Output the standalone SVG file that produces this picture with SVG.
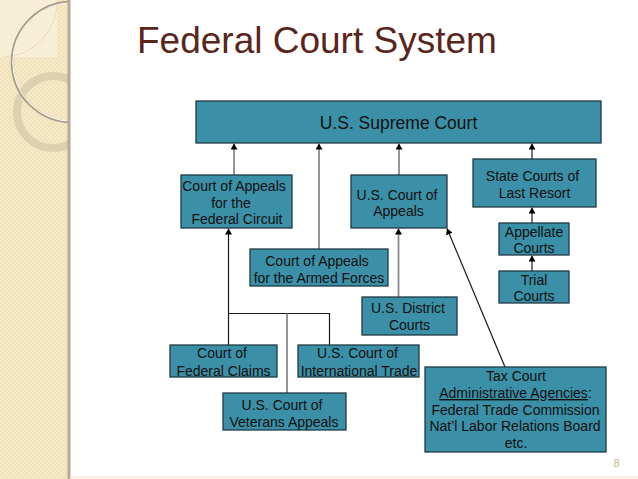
<svg xmlns="http://www.w3.org/2000/svg" width="638" height="479" viewBox="0 0 638 479">
  <defs>
    <style>
      .box { fill: #3b8fa6; stroke: #1f3b46; stroke-width: 1.3; }
      .t { font-family: "Liberation Sans", Arial, sans-serif; font-size: 14px; fill: #111; text-anchor: middle; }
      .big { font-size: 17.5px; }
      .gray { stroke: #8a8a8a; stroke-width: 1.8; fill: none; }
      .blk { stroke: #1a1a1a; stroke-width: 1.2; fill: none; }
    </style>
    <marker id="ah" markerWidth="6" markerHeight="7" refX="6" refY="3.5" orient="auto" markerUnits="userSpaceOnUse">
      <path d="M0,0 L6,3.5 L0,7 Z" fill="#000"/>
    </marker>
    <pattern id="dots" width="4" height="4" patternUnits="userSpaceOnUse">
      <rect width="4" height="4" fill="#f2e2bb"/>
      <rect width="2" height="2" fill="#f6e9c9"/>
      <rect x="2" y="2" width="2" height="2" fill="#f6e9c9"/>
    </pattern>
    <clipPath id="panel">
      <rect x="0" y="0" width="68" height="479"/>
    </clipPath>
  </defs>

  <rect width="638" height="479" fill="#ffffff"/>

  <!-- left decorative panel -->
  <g id="panel-deco">
    <rect x="0" y="0" width="68" height="479" fill="url(#dots)"/>
    <g clip-path="url(#panel)">
      <rect x="0" y="0" width="57" height="57" fill="#ffffff" opacity="0.35"/>
      <path d="M57,0 A55,55 0 0 1 2,57" fill="none" stroke="#e8dcc0" stroke-width="1"/>
      <circle cx="53" cy="112" r="36" fill="none" stroke="#cbbfa3" stroke-width="8" opacity="0.55"/>
      <circle cx="72" cy="62" r="60" fill="none" stroke="#a99d86" stroke-width="2.6"/>
      <circle cx="72" cy="62" r="59.3" fill="none" stroke="#ffffff" stroke-width="1"/>
    </g>
    <rect x="67.5" y="0" width="3" height="479" fill="#b6aa91"/>
    <rect x="70.5" y="476" width="568" height="3" fill="#fbefe6"/>
  </g>

  <!-- title -->
  <text x="137" y="53" font-family="'Liberation Sans', Arial, sans-serif" font-size="37px" fill="#5a261c">Federal Court System</text>
  <text x="616.5" y="467" font-family="'Liberation Sans', Arial, sans-serif" font-size="11px" fill="#c5b48c" text-anchor="middle">8</text>

  <!-- connectors -->
  <g id="connectors">
    <line class="gray" x1="234" y1="175" x2="234" y2="143.5" marker-end="url(#ah)"/>
    <line class="gray" x1="319" y1="249" x2="319" y2="143.5" marker-end="url(#ah)"/>
    <line class="gray" x1="399" y1="175" x2="399" y2="143.5" marker-end="url(#ah)"/>
    <line class="blk" x1="532" y1="159" x2="532" y2="143.5" marker-end="url(#ah)"/>
    <line class="blk" x1="532" y1="223" x2="532" y2="207.5" marker-end="url(#ah)"/>
    <line class="blk" x1="532" y1="271" x2="532" y2="255.5" marker-end="url(#ah)"/>
    <line class="gray" x1="398.5" y1="297" x2="398.5" y2="228.5" marker-end="url(#ah)"/>
    <line class="blk" x1="505" y1="367" x2="447" y2="228.5" marker-end="url(#ah)"/>
    <line class="blk" x1="228.5" y1="345" x2="228.5" y2="228.5" marker-end="url(#ah)"/>
    <polyline class="blk" points="228.5,313.5 329.5,313.5 329.5,345"/>
    <line class="gray" x1="287" y1="393" x2="287" y2="313.5"/>
  </g>

  <g id="supreme">
    <rect class="box" x="196" y="101" width="405" height="42"/>
    <text class="t big" x="398.5" y="129">U.S. Supreme Court</text>
  </g>

  <g id="federal-circuit">
    <rect class="box" x="181" y="175" width="111" height="53"/>
    <text class="t" x="234" y="191">Court of Appeals</text>
    <text class="t" x="231" y="207.5">for the</text>
    <text class="t" x="237" y="224">Federal Circuit</text>
  </g>

  <g id="armed-forces">
    <rect class="box" x="250" y="249" width="138" height="37"/>
    <text class="t" x="317" y="266">Court of Appeals</text>
    <text class="t" x="319" y="282.5">for the Armed Forces</text>
  </g>

  <g id="court-of-appeals">
    <rect class="box" x="351" y="175" width="96" height="53"/>
    <text class="t" x="397" y="199.5">U.S. Court of</text>
    <text class="t" x="398.5" y="216">Appeals</text>
  </g>

  <g id="state-last-resort">
    <rect class="box" x="473" y="159" width="123" height="48"/>
    <text class="t" x="532.5" y="180.5">State Courts of</text>
    <text class="t" x="534.5" y="198">Last Resort</text>
  </g>

  <g id="appellate">
    <rect class="box" x="499" y="223" width="70" height="32"/>
    <text class="t" x="534" y="236.5">Appellate</text>
    <text class="t" x="534" y="252.5">Courts</text>
  </g>

  <g id="trial">
    <rect class="box" x="499" y="271" width="70" height="32"/>
    <text class="t" x="534" y="284.5">Trial</text>
    <text class="t" x="534" y="300.5">Courts</text>
  </g>

  <g id="district">
    <rect class="box" x="362" y="297" width="95" height="38"/>
    <text class="t" x="408" y="313">U.S. District</text>
    <text class="t" x="409.5" y="330">Courts</text>
  </g>

  <g id="federal-claims">
    <rect class="box" x="170" y="345" width="107" height="32"/>
    <text class="t" x="222" y="358">Court of</text>
    <text class="t" x="223.5" y="375.5">Federal Claims</text>
  </g>

  <g id="international-trade">
    <rect class="box" x="298" y="345" width="121" height="32"/>
    <text class="t" x="357.5" y="358">U.S. Court of</text>
    <text class="t" x="359" y="375.5">International Trade</text>
  </g>

  <g id="veterans">
    <rect class="box" x="223" y="393" width="123" height="37"/>
    <text class="t" x="282" y="409.5">U.S. Court of</text>
    <text class="t" x="284" y="426.5">Veterans Appeals</text>
  </g>

  <g id="tax-court">
    <rect class="box" x="425" y="367" width="181" height="85"/>
    <text class="t" x="516" y="381">Tax Court</text>
    <text class="t" x="515.5" y="398"><tspan text-decoration="underline">Administrative Agencies</tspan>:</text>
    <text class="t" x="515.5" y="414.5">Federal Trade Commission</text>
    <text class="t" x="515" y="431">Nat’l Labor Relations Board</text>
    <text class="t" x="516" y="448">etc.</text>
  </g>
</svg>
